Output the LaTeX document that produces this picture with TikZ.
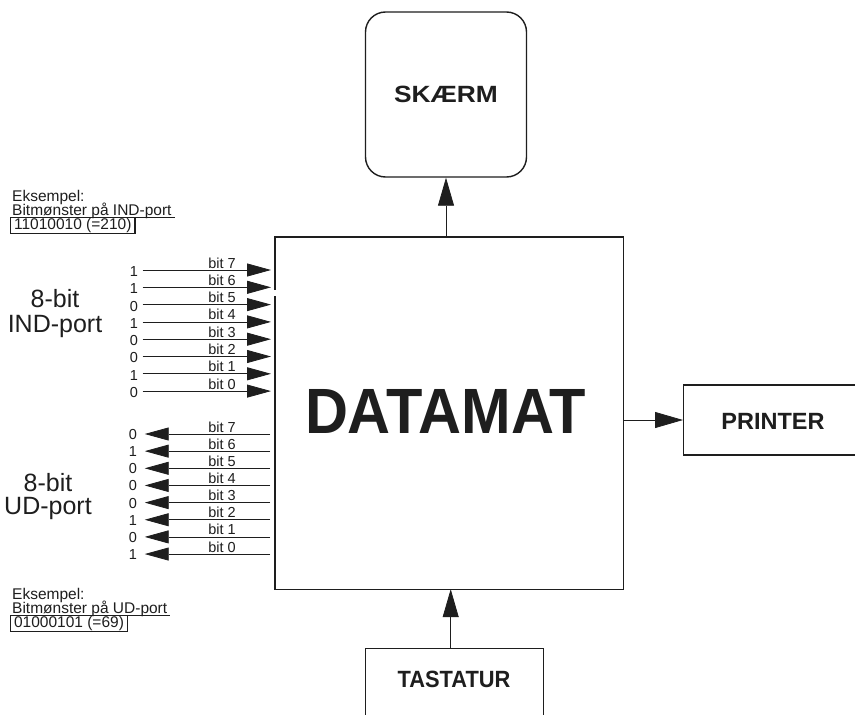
\documentclass[tikz,border=0pt]{standalone}
\usepackage{fontspec}
\setmainfont{Liberation Sans}
\usetikzlibrary{arrows.meta}
\definecolor{ink}{HTML}{1E1E1E}
\begin{document}
\begin{tikzpicture}[x=1pt,y=-1pt,
  every node/.style={text=ink},
  frame/.style={draw=ink, line width=1.4pt},
  unitbox/.style={frame, inner sep=0pt},
  unitlabel/.style={font=\fontsize{23.5}{23.5}\selectfont\bfseries},
  wire/.style={draw=ink, line width=0.8pt},
  smallhead/.style={-{Triangle[length=24pt,width=13pt]}},
  bighead/.style={-{Triangle[length=28pt,width=16pt]}},
  digit/.style={font=\fontsize{14.5}{14.5}\selectfont, inner sep=1.5pt},
  bitlabel/.style={font=\fontsize{14.5}{14.5}\selectfont, inner sep=0pt, anchor=base},
  portlabel/.style={font=\fontsize{25}{25}\selectfont, align=center, inner sep=0pt},
  exline/.style={font=\fontsize{15.5}{15.5}\selectfont, anchor=base west, inner sep=0pt},
  exbox/.style={font=\fontsize{15.5}{15.5}\selectfont, anchor=base west, draw=ink,
    line width=1.2pt, inner xsep=3.5pt, inner ysep=0.5pt}
]
\useasboundingbox (0,0) rectangle (855,715);
\fill[white] (0,0) rectangle (855,715);

% central computer; its left side is broken between bit 6 and bit 5
\node[minimum width=348pt, minimum height=352pt, inner sep=0pt] (datamat) at (449,413) {};
\draw[frame] ([yshift=-53pt]datamat.north west) -- (datamat.north west)
  -- (datamat.north east) -- (datamat.south east) -- (datamat.south west)
  -- ([yshift=-59pt]datamat.north west);
\node[font=\fontsize{64}{64}\selectfont\bfseries] (datamattext) at (445.5,411)
  {\scalebox{0.93}[1]{DATAMAT}};

% peripherals
\node[unitbox, rounded corners=20pt, minimum width=161pt, minimum height=165pt,
  unitlabel] (skaerm) at (446,94.5) {\scalebox{1.12}[1]{SKÆRM}};
\node[unitbox, minimum width=182pt, minimum height=70pt, anchor=west,
  unitlabel] (printer) at (683,420) {};
\node[unitlabel] (printertext) at (773,421) {PRINTER};
\node[unitbox, minimum width=178pt, minimum height=80pt, anchor=north west]
  (tastatur) at (365,648) {};
\node[unitlabel] (tastaturtext) at (454,679) {\scalebox{0.93}[1]{TASTATUR}};

\draw[wire, bighead] (datamat.north -| skaerm.south) -- (skaerm.south);
\draw[wire, bighead] (datamat.east |- printer.west) -- (printer.west);
\draw[wire, bighead] ([xshift=-4pt]tastatur.north) -- ([xshift=-4pt]tastatur.north |- datamat.south);

% 8-bit input port
\node[portlabel] (indport) at (55,314) {8-bit\\IND-port};
\foreach \v [count=\i from 0] in {1,1,0,1,0,0,1,0} {
  \pgfmathsetmacro\yy{270+17.3*\i}
  \pgfmathtruncatemacro\bb{7-\i}
  \node[digit] (inbit\bb) at (134,\yy+1.5) {\v};
  \coordinate (intip\bb) at (271,\yy);
  \draw[wire, smallhead, shorten <=3pt] (inbit\bb.east |- intip\bb) -- (intip\bb);
  \node[bitlabel] (inlabel\bb) at (222,\yy-2) {bit \bb};
}

% 8-bit output port
\node[portlabel] (udport) at (48,497) {8-bit\\[-2pt]UD-port};
\foreach \v [count=\i from 0] in {0,1,0,0,0,1,0,1} {
  \pgfmathsetmacro\yy{434+17.15*\i}
  \pgfmathtruncatemacro\bb{7-\i}
  \node[digit] (udbit\bb) at (133,\yy+0.5) {\v};
  \coordinate (udstart\bb) at (270,\yy);
  \draw[wire, smallhead, shorten >=6pt] (udstart\bb) -- (udbit\bb.east |- udstart\bb);
  \node[bitlabel] (udlabel\bb) at (222,\yy-2) {bit \bb};
}

% example bit patterns
\node[exline] (inex1) at (12,201) {Eksempel:};
\node[exline] (inex2) at (12,215) {Bitmønster på IND-port};
\draw[ink, line width=0.9pt] (inex2.base west) ++(0,2.5) -- ++(163,0);
\node[exbox] (inex3) at (10,229.5) {11010010 (=210)};

\node[exline] (udex1) at (12,599) {Eksempel:};
\node[exline] (udex2) at (12,613) {Bitmønster på UD-port};
\draw[ink, line width=0.9pt] (udex2.base west) ++(0,2.5) -- ++(158,0);
\node[exbox] (udex3) at (10,627.5) {01000101 (=69)};
\end{tikzpicture}
\end{document}
